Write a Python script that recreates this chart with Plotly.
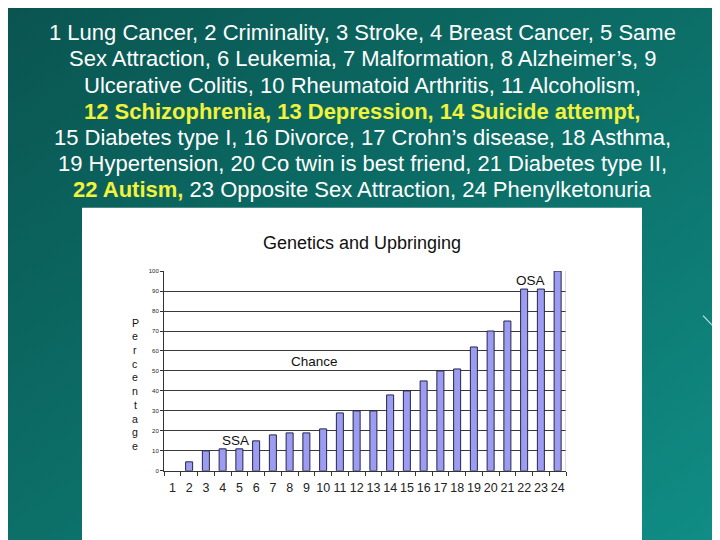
import plotly.graph_objects as go

W, H = 720, 540
OX, OY = 8, 8  # page margin offset compensation

categories = list(range(1, 25))
values = [0, 4.5, 10, 11, 11, 15, 18, 19, 19, 21, 29, 30, 30, 38, 40, 45,
          50, 51, 62, 70, 75, 91, 91, 100]
y_ticks = [0, 10, 20, 30, 40, 50, 60, 70, 80, 90, 100]

YEL = "#f2f23a"
header_lines = [
    "1 Lung Cancer, 2 Criminality, 3 Stroke, 4 Breast Cancer, 5 Same",
    "Sex Attraction, 6 Leukemia, 7 Malformation, 8 Alzheimer’s, 9",
    "Ulcerative Colitis, 10 Rheumatoid Arthritis, 11 Alcoholism,",
    f"<span style='color:{YEL}'><b>12 Schizophrenia, 13 Depression, 14 Suicide attempt,</b></span>",
    "15 Diabetes type I, 16 Divorce, 17 Crohn’s disease, 18 Asthma,",
    "19 Hypertension, 20 Co twin is best friend, 21 Diabetes type II,",
    f"<span style='color:{YEL}'><b>22 Autism,</b></span> 23 Opposite Sex Attraction, 24 Phenylketonuria",
]
chart_title = "Genetics and Upbringing"
y_title = "Percentage"
notes = [("SSA", 4.75, 15), ("Chance", 9.5, 54.5), ("OSA", 22.4, 95.5)]

FONT = "Liberation Sans, Arial"


def px(x):
    return (x - OX) / W


def py(y):
    return 1 - (y - OY) / H


grad_svg = (
    "data:image/svg+xml;utf8,"
    "<svg xmlns='http://www.w3.org/2000/svg' width='720' height='540'>"
    "<defs><linearGradient id='g' x1='0' y1='0' x2='1' y2='1'>"
    "<stop offset='0' stop-color='%230a5450'/>"
    "<stop offset='0.5' stop-color='%230c7069'/>"
    "<stop offset='1' stop-color='%23109088'/>"
    "</linearGradient></defs>"
    "<rect width='720' height='540' fill='url(%23g)'/>"
    "</svg>"
)

fig = go.Figure()
fig.add_trace(go.Bar(
    x=categories, y=values, width=0.42,
    marker=dict(color="#9c9cf2",
                line=dict(color="#26264a", width=[0 if v == 0 else 1 for v in values])),
    hoverinfo="skip",
))

annotations = []
for i, line in enumerate(header_lines):
    annotations.append(dict(
        text=line, x=px(362), y=py(30 + i * 26.5), xref="paper", yref="paper",
        showarrow=False, xanchor="center", yanchor="middle",
        font=dict(family=FONT, size=22, color="white"),
    ))
annotations.append(dict(
    text=chart_title, x=px(362), y=py(243), xref="paper", yref="paper",
    showarrow=False, xanchor="center", yanchor="middle",
    font=dict(family=FONT, size=18, color="#111"),
))
for i, ch in enumerate(y_title):
    annotations.append(dict(
        text=ch, x=px(135), y=py(323 + i * 13.9), xref="paper", yref="paper",
        showarrow=False, xanchor="center", yanchor="middle", borderpad=0,
        font=dict(family=FONT, size=10.6, color="#111"),
    ))
for t, xv, yv in notes:
    annotations.append(dict(
        text=t, x=xv, y=yv, xref="x", yref="y", showarrow=False,
        xanchor="center", yanchor="middle",
        font=dict(family=FONT, size=13.5, color="#111"),
    ))

fig.update_layout(
    width=W, height=H,
    margin=dict(l=0, r=0, t=0, b=0),
    paper_bgcolor="#0b625c",
    plot_bgcolor="white",
    showlegend=False,
    images=[dict(source=grad_svg, xref="paper", yref="paper", x=px(0), y=py(0),
                 sizex=1.05, sizey=1.05, sizing="stretch", layer="below")],
    shapes=[
        dict(type="rect", xref="paper", yref="paper", x0=px(82), x1=px(642),
             y0=py(560), y1=py(207), fillcolor="white", line=dict(width=0), layer="below"),
        dict(type="line", xref="paper", yref="paper", x0=px(703), y0=py(316),
             x1=px(720), y1=py(334), line=dict(color="rgba(230,255,250,0.8)", width=1.2)),
        dict(type="line", xref="x", yref="y", x0=24.5, x1=24.5, y0=0, y1=100,
             line=dict(color="#bbbbbb", width=1)),
    ],
    annotations=annotations,
    xaxis=dict(
        domain=[px(164), px(566)], range=[0.5, 24.5],
        tickvals=categories, ticktext=[str(c) for c in categories],
        ticks="", showgrid=False, zeroline=False,
        showline=True, linecolor="#333", linewidth=1,
        tickfont=dict(family=FONT, size=12.5, color="#222"),
        minor=dict(tick0=0.5, dtick=1, ticks="outside", ticklen=4,
                   tickcolor="#333", showgrid=False),
        ticklabelstandoff=5,
    ),
    yaxis=dict(
        domain=[py(473), py(271)], range=[0, 100],
        tickvals=y_ticks, ticks="outside", ticklen=3, tickcolor="#333",
        showgrid=True, gridcolor="#3a3a3a", gridwidth=1,
        zeroline=False, showline=True, linecolor="#333", linewidth=1,
        tickfont=dict(family=FONT, size=6, color="#222"),
    ),
)

fig.write_html("out.html")
